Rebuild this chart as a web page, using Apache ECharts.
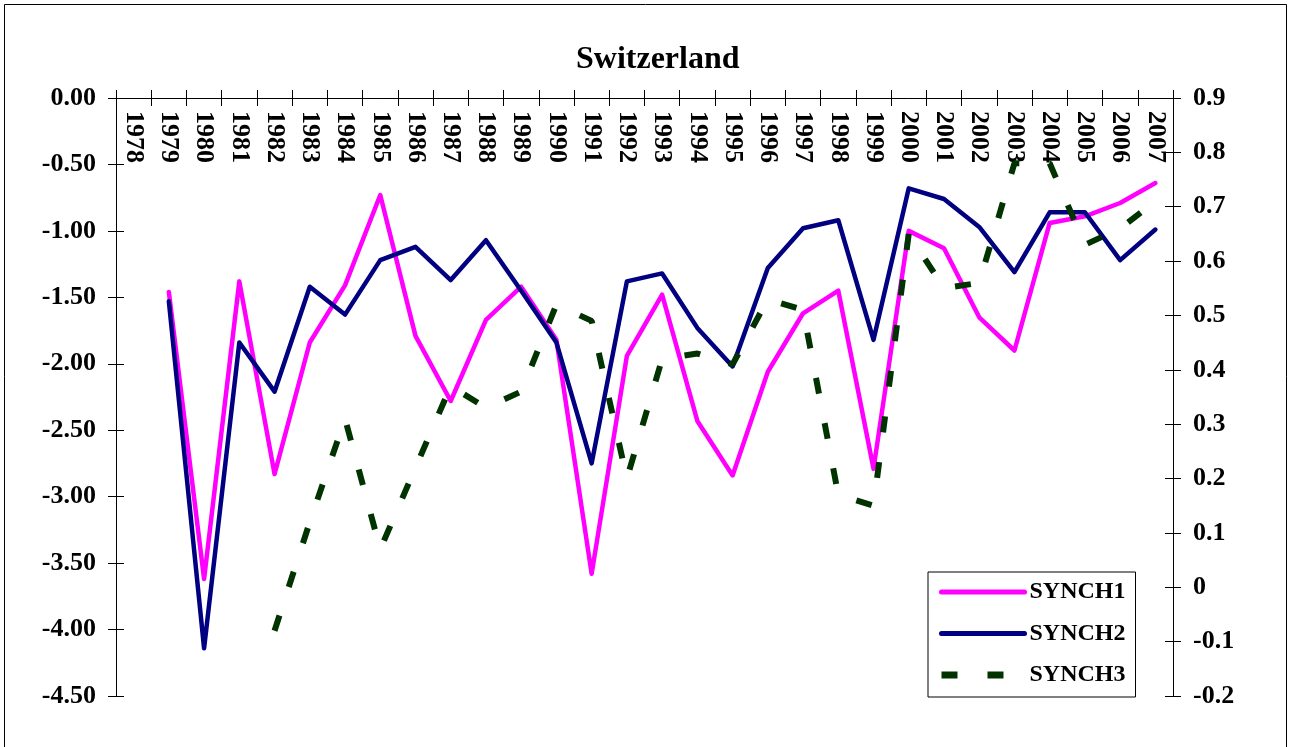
<!DOCTYPE html>
<html>
<head>
<meta charset="utf-8">
<script src="https://cdn.jsdelivr.net/npm/echarts@6/dist/echarts.min.js"></script>
<style>
html, body { margin: 0; padding: 0; background: #fff; }
#chart { width: 1291px; height: 747px; }
</style>
</head>
<body>
<div id="chart"></div>
<script>
// years on the category axis
var years = []
for (var y = 1978; y <= 2007; y++) years.push(String(y))

// left axis series
var synch1 = [null, -1.46, -3.62, -1.38, -2.83, -1.84, -1.41, -0.73, -1.79, -2.28, -1.67, -1.42, -1.82, -3.58, -1.94, -1.48, -2.43, -2.84, -2.06, -1.62, -1.45, -2.79, -1.00, -1.13, -1.65, -1.90, -0.94, -0.89, -0.79, -0.64]
var synch2 = [null, -1.53, -4.14, -1.84, -2.21, -1.42, -1.63, -1.22, -1.12, -1.37, -1.07, -1.45, -1.84, -2.75, -1.38, -1.32, -1.73, -2.02, -1.28, -0.98, -0.92, -1.82, -0.68, -0.76, -0.97, -1.31, -0.86, -0.86, -1.22, -0.99]
// right axis series
var synch3 = [null, null, null, null, -0.08, 0.12, 0.31, 0.07, 0.22, 0.37, 0.33, 0.36, 0.52, 0.49, 0.20, 0.42, 0.43, 0.41, 0.53, 0.51, 0.17, 0.15, 0.65, 0.55, 0.56, 0.78, 0.78, 0.63, 0.66, 0.71]

var font = 'Liberation Serif'
var black = '#000'

var chart = echarts.init(document.getElementById('chart'))

function yAx(pos, min, max, step, showLabel, inside, fmt) {
  return {
    type: 'value',
    position: pos,
    min: min,
    max: max,
    interval: step,
    splitLine: { show: false },
    axisLine: { show: true, lineStyle: { color: black, width: 1 } },
    axisTick: { show: true, inside: inside, length: 8, lineStyle: { color: black } },
    axisLabel: {
      show: showLabel,
      margin: 20,
      color: black,
      fontFamily: font,
      fontWeight: 'bold',
      fontSize: 26,
      formatter: fmt
    }
  }
}

var option = {
  animation: false,
  backgroundColor: '#fff',
  title: {
    text: 'Switzerland',
    left: 576,
    top: 44,
    padding: 0,
    textStyle: { fontFamily: font, fontWeight: 'bold', fontSize: 32, color: black }
  },
  grid: { left: 116, right: 118, top: 98, bottom: 51 },
  legend: {
    orient: 'vertical',
    left: 928,
    top: 572,
    padding: [8, 10, 10, 10],
    borderColor: black,
    borderWidth: 1,
    itemWidth: 83,
    itemHeight: 24,
    itemGap: 17.5,
    itemStyle: { opacity: 0 },
    textStyle: { fontFamily: font, fontWeight: 'bold', fontSize: 24, color: black },
    data: [
      { name: 'SYNCH1', lineStyle: { width: 5, cap: 'round' } },
      { name: 'SYNCH2', lineStyle: { width: 5, cap: 'round' } },
      { name: 'SYNCH3', lineStyle: { width: 7, type: [16, 30], cap: 'butt' } }
    ]
  },
  xAxis: [
    {
      type: 'category',
      data: years,
      position: 'top',
      boundaryGap: true,
      axisLine: { onZero: false, lineStyle: { color: black, width: 1 } },
      axisTick: { show: true, inside: true, length: 8, lineStyle: { color: black } },
      axisLabel: {
        inside: true,
        rotate: 90,
        interval: 0,
        margin: 13,
        color: black,
        fontFamily: font,
        fontWeight: 'bold',
        fontSize: 26
      }
    },
    {
      type: 'category',
      data: years,
      position: 'top',
      boundaryGap: true,
      axisLine: { show: false, onZero: false },
      axisTick: { show: true, inside: false, length: 8, lineStyle: { color: black } },
      axisLabel: { show: false }
    }
  ],
  yAxis: [
    yAx('left', -4.5, 0, 0.5, true, false, function (v) { return v.toFixed(2) }),
    yAx('right', -0.2, 0.9, 0.1, true, false, null),
    yAx('left', -4.5, 0, 0.5, false, true, null),
    yAx('right', -0.2, 0.9, 0.1, false, true, null)
  ],
  series: [
    {
      name: 'SYNCH1',
      type: 'line',
      data: synch1,
      yAxisIndex: 0,
      symbol: 'none',
      color: '#ff00ff',
      lineStyle: { color: '#ff00ff', width: 4.5, cap: 'round', join: 'round' }
    },
    {
      name: 'SYNCH2',
      type: 'line',
      data: synch2,
      yAxisIndex: 0,
      symbol: 'none',
      color: '#000080',
      lineStyle: { color: '#000080', width: 4.5, cap: 'round', join: 'round' }
    },
    {
      name: 'SYNCH3',
      type: 'line',
      data: synch3,
      yAxisIndex: 1,
      symbol: 'none',
      color: '#003300',
      lineStyle: { color: '#003300', width: 6, type: [16, 30], cap: 'butt' }
    }
  ],
  graphic: [
    {
      type: 'rect',
      shape: { x: 4.5, y: 4.5, width: 1282, height: 800 },
      style: { fill: 'none', stroke: black, lineWidth: 1 },
      silent: true
    }
  ]
}

chart.setOption(option)
</script>
</body>
</html>
